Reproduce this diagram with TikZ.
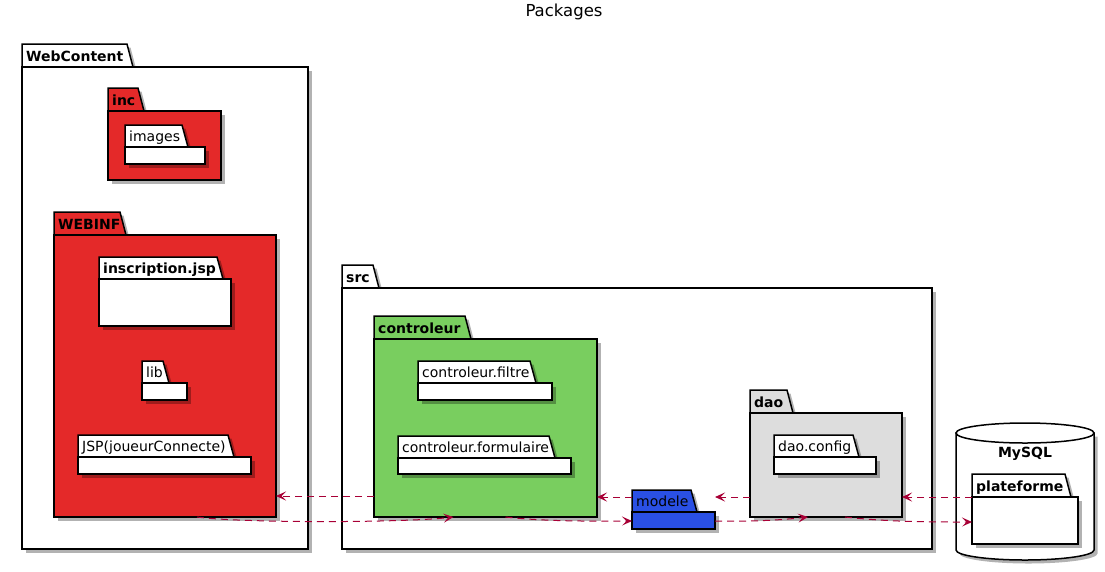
\documentclass[tikz,border=0pt]{standalone}
\usepackage{fontspec}
\setmainfont{DejaVu Sans}
\usepackage{tikz}
\usetikzlibrary{arrows.meta}
\usetikzlibrary{shadows}
\definecolor{pkgred}{RGB}{228,41,41}
\definecolor{pkggreen}{RGB}{121,206,95}
\definecolor{pkgblue}{RGB}{42,80,228}
\definecolor{pkggray}{RGB}{221,221,221}
\definecolor{deparrow}{RGB}{168,0,54}
\tikzset{
	% package outline, body and dependency arrows
	pkgline/.style={draw=black,line width=1.5pt,line join=miter,
		drop shadow={shadow xshift=3.5pt,shadow yshift=-3.5pt,fill=black,opacity=.3}},
	pkgbody/.style={pkgline,rectangle,inner sep=0pt,outer sep=0pt},
	depend/.style={draw=deparrow,line width=1pt,dash pattern=on 7pt off 5pt,
		-{Stealth[length=10pt,width=9pt,inset=4.5pt]}}
}

\begin{document}
\begin{tikzpicture}[x=1pt,y=-1pt,font=\fontsize{14}{16}\selectfont]
	% macro for a package: [fill]{name}{left}{top}{right}{bottom}{tab width}{label}
	\newcommand{\pkg}[8][white]{
		\filldraw[pkgline,fill=#1] (#3,#4) -- (#3,#4-23) -- (#3+#7,#4-23) -- (#3+#7+6,#4) -- cycle;
		\node[pkgbody,fill=#1,minimum width=#5-#3,minimum height=#6-#4,anchor=north west] (#2) at (#3,#4) {};
		\node[anchor=base west,inner sep=0pt,font=\fontsize{14}{16}\selectfont\bfseries] at (#3+4,#4-6) {#8};
	}
	% macro for a leaf package with a plain label
	\newcommand{\leafpkg}[7]{
		\filldraw[pkgline,fill=white] (#2,#3) -- (#2,#3-22) -- (#2+#6,#3-22) -- (#2+#6+6,#3) -- cycle;
		\node[pkgbody,fill=white,minimum width=#4-#2,minimum height=#5-#3,anchor=north west] (#1) at (#2,#3) {};
		\node[anchor=base west,inner sep=0pt] at (#2+4,#3-6) {#7};
	}
	\useasboundingbox (0,0) rectangle (1105,571);
	
	\node (title) at (564,12) {\fontsize{16.5}{18}\selectfont Packages};
	
	% WebContent
	\pkg{webcontent}{22}{67}{308}{549}{105}{WebContent}
	\pkg[pkgred]{inc}{108}{111}{221}{180}{30}{inc}
	\leafpkg{images}{125}{147}{205}{164}{57}{images}
	\pkg[pkgred]{webinf}{54}{235}{276}{517}{66}{WEBINF}
	\leafpkg{inscription}{99}{279}{231}{326}{118}{\bfseries inscription.jsp}
	\leafpkg{lib}{142}{383}{187}{400}{21}{lib}
	\leafpkg{jsp}{78}{457}{251}{474}{150}{JSP(joueurConnecte)}
	
	% src
	\pkg{src}{342}{288}{932}{549}{31}{src}
	\pkg[pkggreen]{controleur}{374}{339}{597}{517}{91}{controleur}
	\leafpkg{filtre}{418}{383}{552}{400}{112}{controleur.filtre}
	\leafpkg{formulaire}{398}{458}{571}{474}{151}{controleur.formulaire}
	\pkg[pkggray]{dao}{750}{413}{902}{517}{37}{dao}
	\leafpkg{daoconfig}{774}{457}{876}{474}{79}{dao.config}
	
	% modele
	\filldraw[pkgline,fill=pkgblue] (632,512) -- (632,490) -- (691,490) -- (697,512) -- cycle;
	\node[pkgbody,fill=pkgblue,minimum width=83,minimum height=17,anchor=north west] (modele) at (632,512) {};
	\node[anchor=base west,inner sep=0pt] at (636,506) {modele};
	
	% MySQL
	\filldraw[pkgline,fill=white] (956,433) -- (956,550) arc[start angle=180,end angle=360,x radius=69pt,y radius=10pt] -- (1094,433) -- cycle;
	\draw[line width=1.5pt,fill=white] (1025,433) ellipse[x radius=69pt,y radius=10pt];
	\node[font=\fontsize{14}{16}\selectfont\bfseries] (mysql) at (1025,454) {MySQL};
	\pkg{plateforme}{972}{497}{1078}{544}{93}{plateforme}
	
	% dependencies
	\draw[depend] (controleur.west |- 0,496) -- (webinf.east |- 0,496);
	\draw[depend] ([xshift=32pt]webinf.south) .. controls (240,523) and (400,523) .. ([xshift=-32pt]controleur.south);
	\draw[depend] (modele.west |- 0,497) -- (controleur.east |- 0,497);
	\draw[depend] ([xshift=20pt]controleur.south) .. controls (550,522) and (600,521) .. (modele.west |- 0,521);
	\draw[depend] (dao.west |- 0,497) -- (modele.east |- 0,497);
	\draw[depend] (modele.east |- 0,521) .. controls (760,522) and (790,519) .. ([xshift=-18pt]dao.south);
	\draw[depend] (plateforme.west |- 0,497) -- (dao.east |- 0,497);
	\draw[depend] ([xshift=19pt]dao.south) .. controls (890,522) and (930,522) .. (plateforme.west |- 0,522);
\end{tikzpicture}
\end{document}
